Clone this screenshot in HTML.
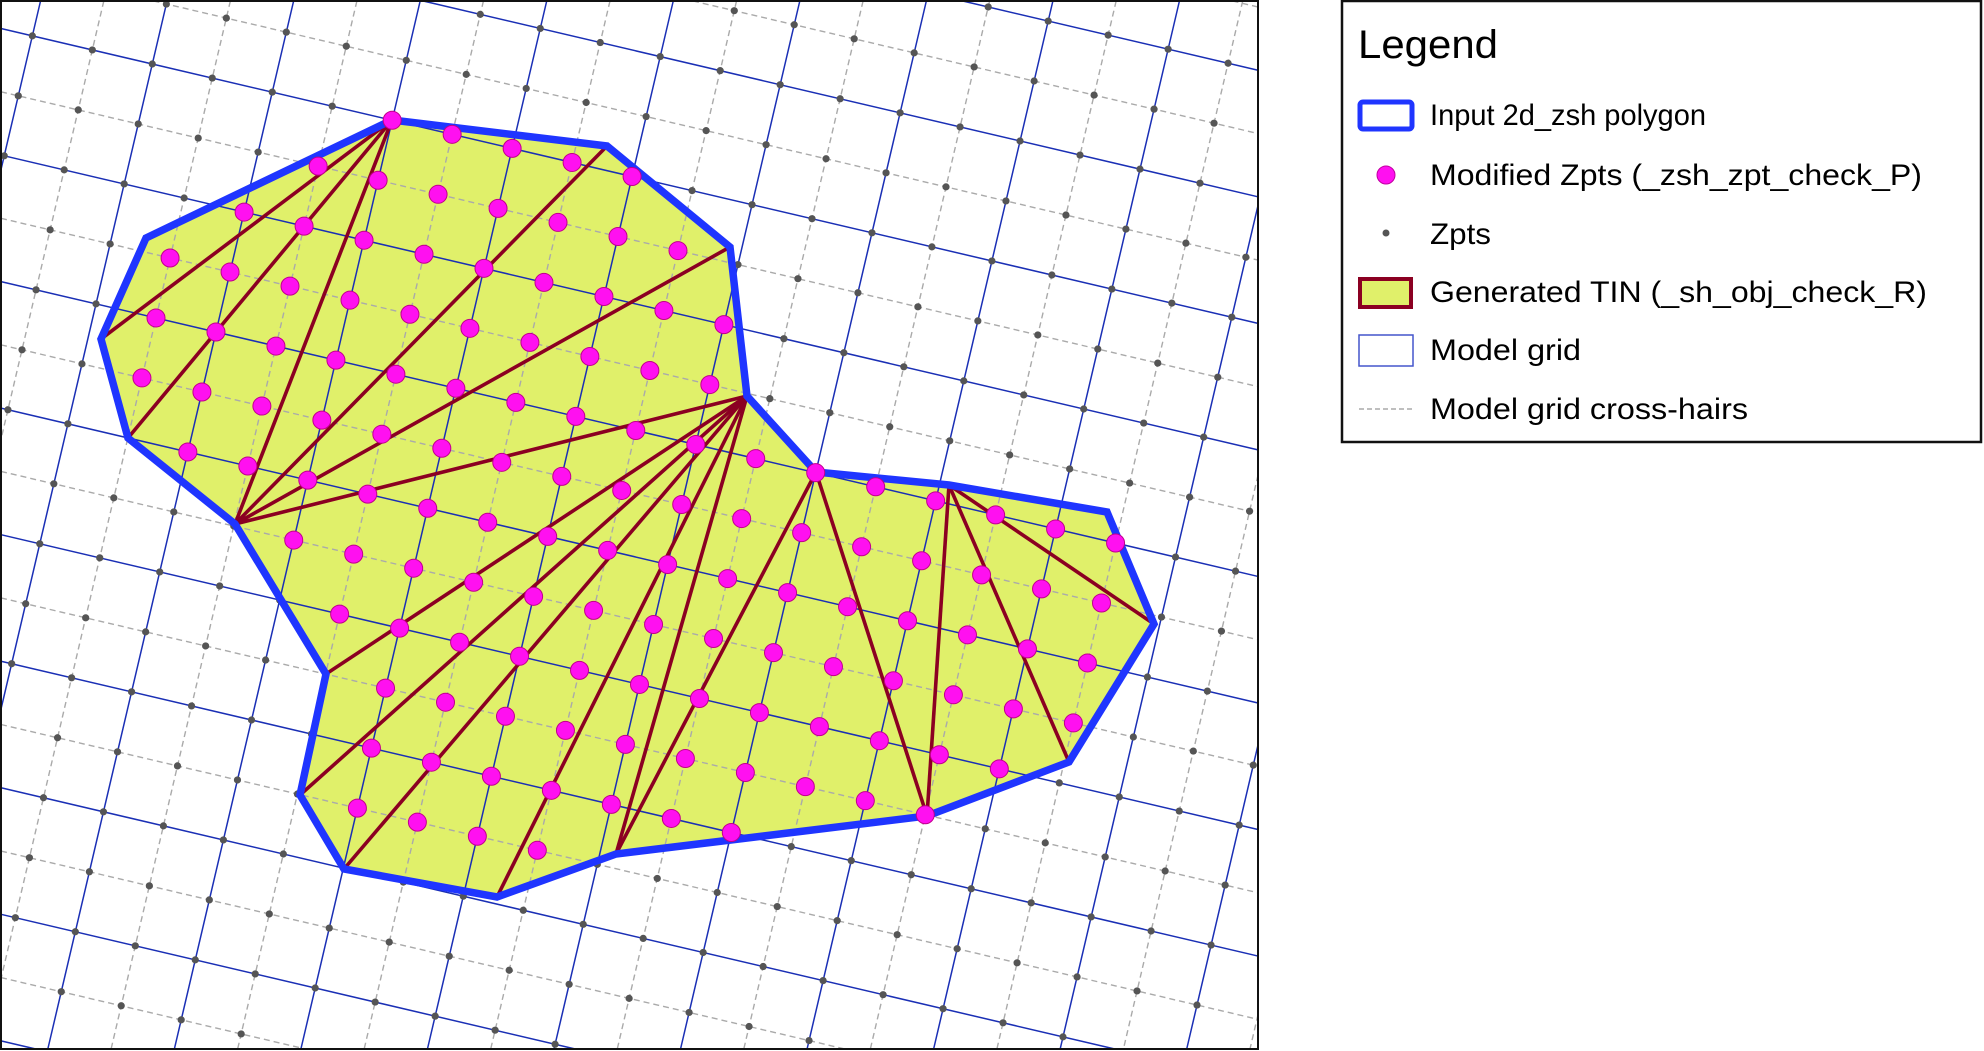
<!DOCTYPE html>
<html><head><meta charset="utf-8"><style>
html,body{margin:0;padding:0;background:#fff;width:1984px;height:1051px;overflow:hidden;}
svg{display:block;font-family:"Liberation Sans",sans-serif;}
</style></head><body>
<svg id="svg" width="1984" height="1051" viewBox="0 0 1984 1051" xmlns="http://www.w3.org/2000/svg">
<rect x="0" y="0" width="1984" height="1051" fill="#fff"/>
<g id="map"></g>
<rect x="1" y="1" width="1257" height="1048" fill="none" stroke="#111" stroke-width="2"/>
<g id="legend">
<rect x="1342" y="1" width="639" height="441" fill="#fff" stroke="#111" stroke-width="2.5"/>
<text x="1358" y="58" font-size="40" textLength="140" lengthAdjust="spacingAndGlyphs" fill="#000">Legend</text>
<g>
<rect x="1360" y="102" width="52" height="27" rx="3" fill="#fff" stroke="#1f35ff" stroke-width="5"/>
<text x="1430" y="125" font-size="30" textLength="276" lengthAdjust="spacingAndGlyphs">Input 2d_zsh polygon</text></g>
<g>
<circle cx="1386" cy="175" r="9" fill="#ff10f0" stroke="#c000a0" stroke-width="1"/>
<text x="1430" y="185" font-size="30" textLength="492" lengthAdjust="spacingAndGlyphs">Modified Zpts (_zsh_zpt_check_P)</text></g>
<g>
<circle cx="1386" cy="233" r="3.5" fill="#555"/>
<text x="1430" y="244" font-size="30" textLength="61" lengthAdjust="spacingAndGlyphs">Zpts</text></g>
<g>
<rect x="1360" y="279" width="51" height="28" fill="#e0f06a" stroke="#8b0022" stroke-width="4"/>
<text x="1430" y="302" font-size="30" textLength="497" lengthAdjust="spacingAndGlyphs">Generated TIN (_sh_obj_check_R)</text></g>
<g>
<rect x="1359" y="335" width="54" height="31" fill="#fff" stroke="#4455cc" stroke-width="1.5"/>
<text x="1430" y="360" font-size="30" textLength="151" lengthAdjust="spacingAndGlyphs">Model grid</text></g>
<g>
<line x1="1359" y1="409" x2="1413" y2="409" stroke="#aaa" stroke-width="1.5" stroke-dasharray="5,3"/>
<text x="1430" y="419" font-size="30" textLength="318" lengthAdjust="spacingAndGlyphs">Model grid cross-hairs</text></g>
</g>
</svg>
<script>
// Polygon vertices (A..S) in pixel map coordinates
const polygonX = [392,607,730,747,816,949,1107,1154,1069,927,616,497,344,300,326,235,128,101,146];
const polygonY = [120,146,247,396,472,485,512,624,762,816,854,897,869,795,674,524,438,339,238];
// TIN edges as vertex index pairs
const tinFrom = [0,0,0,15,15,15,3,3,3,3,3,4,4,5,5,5];
const tinTo   = [17,16,15,1,2,3,14,13,12,11,10,10,9,9,8,7];
// Model grid definition
const gridOrigin = [152.3, 64];
const gridAngleDeg = 13.2;
const gridHalfStep = 61.6;
const MAPW = 1258, MAPH = 1049;

const NS = "http://www.w3.org/2000/svg";
const map = document.getElementById('map');
function mk(tag, attrs){const e=document.createElementNS(NS,tag);for(const k in attrs)e.setAttribute(k,attrs[k]);return e;}
const th = gridAngleDeg*Math.PI/180, c=Math.cos(th), s=Math.sin(th);
function lat(i,j){return [gridOrigin[0]+i*gridHalfStep*c - j*gridHalfStep*s, gridOrigin[1]+i*gridHalfStep*s + j*gridHalfStep*c];}
function inside(x,y){let r=false;const n=polygonX.length;for(let a=0,b=n-1;a<n;b=a++){const xi=polygonX[a],yi=polygonY[a],xj=polygonX[b],yj=polygonY[b];if(((yi>y)!=(yj>y))&&(x<(xj-xi)*(y-yi)/(yj-yi)+xi))r=!r;}return r;}
function clipLine(x0,y0,x1,y1){
  let t0=0,t1=1;const dx=x1-x0,dy=y1-y0;
  const p=[-dx,dx,-dy,dy],q=[x0-1,MAPW-x0,y0-1,MAPH-y0];
  for(let k=0;k<4;k++){
    if(p[k]===0){if(q[k]<0)return null;}
    else{const r=q[k]/p[k];if(p[k]<0){if(r>t1)return null;if(r>t0)t0=r;}else{if(r<t0)return null;if(r<t1)t1=r;}}
  }
  return [x0+t0*dx,y0+t0*dy,x0+t1*dx,y0+t1*dy];
}
const pts = polygonX.map((x,k)=>x+','+polygonY[k]).join(' ');

const fill = mk('polygon',{points:pts,fill:'#e0f06a',stroke:'none'});


map.appendChild(fill);

const R=30;
const gGrid = mk('g',{});


map.appendChild(gGrid);
for(let k=-R;k<=R;k++){
  const blue = (k%2===0);
  const st = blue?{stroke:'#1a2fb5','stroke-width':1.5}:{stroke:'#aaa','stroke-width':1.4,'stroke-dasharray':'6,4'};
  let p1=lat(k,-R),p2=lat(k,R);
  let cl=clipLine(p1[0],p1[1],p2[0],p2[1]);
  if(cl){
    const l1=mk('line',Object.assign({x1:cl[0],y1:cl[1],x2:cl[2],y2:cl[3]},st));
    
    
    gGrid.appendChild(l1);
  }
  p1=lat(-R,k);p2=lat(R,k);
  cl=clipLine(p1[0],p1[1],p2[0],p2[1]);
  if(cl){
    const l2=mk('line',Object.assign({x1:cl[0],y1:cl[1],x2:cl[2],y2:cl[3]},st));
    
    
    gGrid.appendChild(l2);
  }
}
const gZ = mk('g',{});


map.appendChild(gZ);
const magenta=[];
for(let i=-R;i<=R;i++)for(let j=-R;j<=R;j++){
  const p=lat(i,j);
  if(p[0]<4||p[0]>MAPW-4||p[1]<4||p[1]>MAPH-4)continue;
  if(inside(p[0],p[1])){magenta.push(p);continue;}
  const d=mk('circle',{cx:p[0],cy:p[1],r:3.6,fill:'#555'});
  
  
  gZ.appendChild(d);
}
const gT = mk('g',{});


map.appendChild(gT);
for(let k=0;k<tinFrom.length;k++){
  const a=tinFrom[k],b=tinTo[k];
  const l=mk('line',{x1:polygonX[a],y1:polygonY[a],x2:polygonX[b],y2:polygonY[b],stroke:'#8b0022','stroke-width':3.6});
  
  
  gT.appendChild(l);
}
const outline = mk('polygon',{points:pts,fill:'none',stroke:'#1f35ff','stroke-width':7.5,'stroke-linejoin':'miter'});


map.appendChild(outline);
const gM = mk('g',{});


map.appendChild(gM);
magenta.forEach(p=>{
  const d=mk('circle',{cx:p[0],cy:p[1],r:9,fill:'#ff10f0',stroke:'#c0008a','stroke-width':1});
  
  
  gM.appendChild(d);
});
</script>
</body></html>
